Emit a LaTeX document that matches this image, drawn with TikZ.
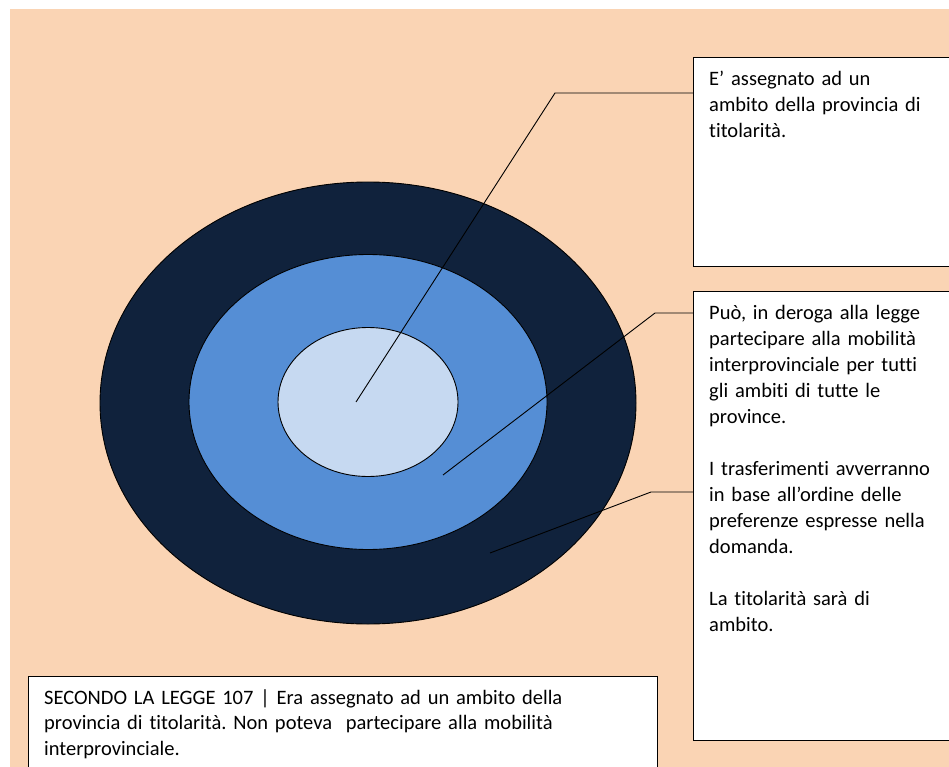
\documentclass[tikz,border=0pt]{standalone}
\usepackage{fontspec}
\setmainfont{Carlito}[Ligatures=CommonOff]
\usetikzlibrary{shapes.geometric}
\definecolor{peach}{HTML}{FAD4B4}
\definecolor{navy}{HTML}{10223C}
\definecolor{midblue}{HTML}{558ED5}
\definecolor{lightblue}{HTML}{C6D9F1}
\frenchspacing
\begin{document}
\begin{tikzpicture}[x=1pt,y=-1pt,
  ring/.style={ellipse, draw=black, line width=0.9pt, inner sep=0pt},
  infobox/.style={draw=black, line width=1.2pt, fill=white, rectangle, anchor=north west, inner sep=0pt},
  txt/.style={anchor=base west, inner sep=0pt, align=left, text width=245, font=\fontsize{20.5}{26}\selectfont},
  conn/.style={draw=black, line width=0.9pt}]
\useasboundingbox (0,0) rectangle (949,767);
\fill[white] (0,0) rectangle (949,767);
\fill[peach] (10,9) rectangle (949,767);
% ellipses
\node[ring, fill=navy, minimum width=536, minimum height=442] (outer) at (368,403) {};
\node[ring, fill=midblue, minimum width=358, minimum height=295] (middle) at (368,402) {};
\node[ring, fill=lightblue, minimum width=180, minimum height=149] (inner) at (368,402) {};
% boxes
\node[infobox, minimum width=265, minimum height=209] (box1) at (693,57) {};
\node[infobox, minimum width=265, minimum height=449] (box2) at (693,291) {};
\node[infobox, minimum width=629, minimum height=100] (box3) at (28,676) {};
% texts
\node[txt] (t1) at (709,86) {E’ assegnato ad un\\ambito della provincia di\\titolarità.};
\node[txt] (t2) at (709,319) {Può, in deroga alla legge\\partecipare alla mobilità\\interprovinciale per tutti\\gli ambiti di tutte le\\province.\\[26pt]I trasferimenti avverranno\\in base all’ordine delle\\preferenze espresse nella\\domanda.\\[26pt]La titolarità sarà di\\ambito.};
\node[txt, text width=610, font=\fontsize{20.5}{25.5}\selectfont] (t3) at (44,704) {SECONDO LA LEGGE 107 | Era assegnato ad un ambito della\\provincia di titolarità. Non poteva\ \ partecipare alla mobilità\\interprovinciale.};
% connectors
\coordinate (e1) at (356,402);
\coordinate (k1) at (555,93);
\coordinate (e2) at (443,475);
\coordinate (k2) at (655,313);
\coordinate (e3) at (490,553);
\coordinate (k3) at (651,492);
\draw[conn] (e1) -- (k1) -- (k1 -| box1.west);
\draw[conn] (e2) -- (k2) -- (k2 -| box2.west);
\draw[conn] (e3) -- (k3) -- (k3 -| box2.west);
\end{tikzpicture}
\end{document}
